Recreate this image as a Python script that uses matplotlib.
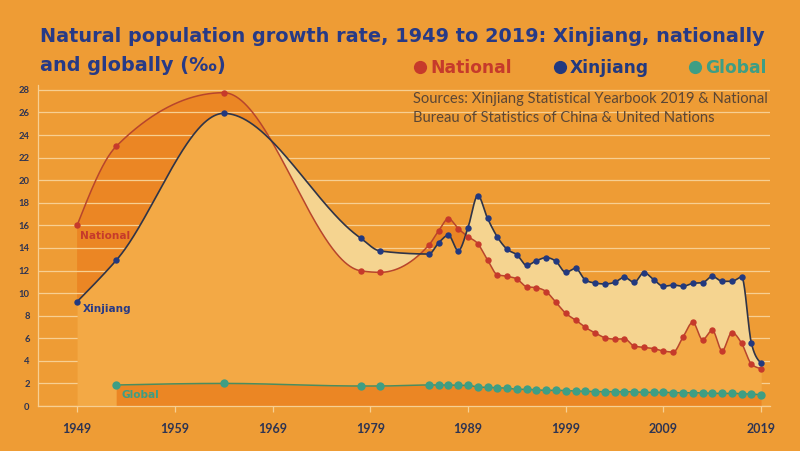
import numpy as np
import matplotlib
matplotlib.use("Agg")
import matplotlib.pyplot as plt
from matplotlib.lines import Line2D

# ---------------- data ----------------
years = [1949, 1953, 1964, 1978, 1980,
         1985, 1986, 1987, 1988, 1989, 1990, 1991, 1992, 1993, 1994,
         1995, 1996, 1997, 1998, 1999, 2000, 2001, 2002, 2003, 2004,
         2005, 2006, 2007, 2008, 2009, 2010, 2011, 2012, 2013, 2014,
         2015, 2016, 2017, 2018, 2019]

national = [16.0, 23.0, 27.75, 11.98, 11.84,
            14.26, 15.53, 16.59, 15.71, 15.00, 14.38, 12.93, 11.63, 11.49, 11.25,
            10.57, 10.48, 10.13, 9.18, 8.21, 7.62, 6.97, 6.47, 6.05, 5.93,
            5.96, 5.31, 5.20, 5.08, 4.87, 4.78, 6.11, 7.41, 5.88, 6.70,
            4.90, 6.50, 5.55, 3.72, 3.31]

xinjiang = [9.24, 12.9, 25.92, 14.88, 13.73,
            13.46, 14.47, 15.12, 13.76, 15.80, 18.63, 16.62, 14.97, 13.88, 13.40,
            12.46, 12.87, 13.14, 12.81, 11.84, 12.19, 11.16, 10.89, 10.81, 10.95,
            11.40, 10.95, 11.81, 11.19, 10.60, 10.72, 10.60, 10.87, 10.92, 11.48,
            11.04, 11.04, 11.43, 5.55, 3.78]

global_years = [1953, 1964, 1978, 1980,
                1985, 1986, 1987, 1988, 1989, 1990, 1991, 1992, 1993, 1994,
                1995, 1996, 1997, 1998, 1999, 2000, 2001, 2002, 2003, 2004,
                2005, 2006, 2007, 2008, 2009, 2010, 2011, 2012, 2013, 2014,
                2015, 2016, 2017, 2018, 2019]

global_rate = [1.86, 2.00, 1.77, 1.77,
               1.86, 1.86, 1.86, 1.83, 1.83, 1.68, 1.65, 1.62, 1.59, 1.48,
               1.48, 1.42, 1.39, 1.39, 1.36, 1.33, 1.30, 1.27, 1.27, 1.27,
               1.27, 1.24, 1.21, 1.21, 1.21, 1.18, 1.18, 1.18, 1.15, 1.12,
               1.12, 1.12, 1.09, 1.06, 1.00]

xtick_years = [1949, 1959, 1969, 1979, 1989, 1999, 2009, 2019]
ytick_values = [0, 2, 4, 6, 8, 10, 12, 14, 16, 18, 20, 22, 24, 26, 28]

title_lines = ["Natural population growth rate, 1949 to 2019: Xinjiang, nationally",
               "and globally (‰)"]
source_lines = ["Sources: Xinjiang Statistical Yearbook 2019 & National",
                "Bureau of Statistics of China & United Nations"]
legend_names = ["National", "Xinjiang", "Global"]

# ---------------- styling ----------------
BG = "#EE9C35"
LIGHT = "#F3A945"
DARK = "#EB8624"
PALE = "#F5D490"
GRID = "#F7CF92"
NAVY = "#273A86"
RED = "#C63A2B"
RED_LINE = "#B8452C"
BLUE = "#22397F"
BLUE_LINE = "#2F3448"
TEAL = "#3E9E84"
TEAL_LINE = "#4A8C5E"
HEAVY = "DejaVu Sans"


def monotone(x, y, xs):
    """Steffen monotone cubic curve (like d3 curveMonotoneX) for drawing."""
    x = np.asarray(x, float)
    y = np.asarray(y, float)
    n = len(x)
    h = np.diff(x)
    s = np.diff(y) / h
    m = np.zeros(n)
    for i in range(1, n - 1):
        p = (s[i - 1] * h[i] + s[i] * h[i - 1]) / (h[i - 1] + h[i])
        m[i] = (np.sign(s[i - 1]) + np.sign(s[i])) * min(abs(s[i - 1]), abs(s[i]), 0.5 * abs(p))
    m[0] = (3 * s[0] - m[1]) / 2
    m[-1] = (3 * s[-1] - m[-2]) / 2
    idx = np.clip(np.searchsorted(x, xs, side="right") - 1, 0, n - 2)
    hh = h[idx]
    t = (xs - x[idx]) / hh
    h00 = 2 * t**3 - 3 * t**2 + 1
    h10 = t**3 - 2 * t**2 + t
    h01 = -2 * t**3 + 3 * t**2
    h11 = t**3 - t**2
    return h00 * y[idx] + h10 * hh * m[idx] + h01 * y[idx + 1] + h11 * hh * m[idx + 1]


def fy(py):
    return 1 - py / 451


fig = plt.figure(figsize=(8.0, 4.51), dpi=100, facecolor=BG)
ax = fig.add_axes([38 / 800, 1 - 406 / 451, 732 / 800, 28.4 * 11.29 / 451])
ax.set_facecolor(BG)
ax.set_xlim(1945.0, 2019.9)
ax.set_ylim(0, 28.4)

xs = np.linspace(years[0], years[-1], 3000)
n_s = monotone(years, national, xs)
x_s = monotone(years, xinjiang, xs)
gxs = np.linspace(global_years[0], global_years[-1], 2000)
g_s = monotone(global_years, global_rate, gxs)

# grid
for v in ytick_values:
    ax.axhline(v, color=GRID, lw=0.9, zorder=2)

# fills
ax.fill_between(xs, x_s, n_s, where=n_s >= x_s, interpolate=True, color=DARK, lw=0, zorder=1.5)
ax.fill_between(xs, 0, np.minimum(n_s, x_s), color=LIGHT, lw=0, zorder=3)
ax.fill_between(xs, n_s, x_s, where=x_s >= n_s, interpolate=True, color=PALE, lw=0, zorder=3)
ax.fill_between(gxs, 0, g_s, color=DARK, lw=0, zorder=3.5)

# lines
ax.plot(xs, n_s, color=RED_LINE, lw=1.1, zorder=5)
ax.plot(xs, x_s, color=BLUE_LINE, lw=1.2, zorder=5)
ax.plot(gxs, g_s, color=TEAL_LINE, lw=1.1, zorder=5)

# points
ax.plot(years, national, "o", color=RED, ms=4.6, mec="none", zorder=6)
ax.plot(years, xinjiang, "o", color=BLUE, ms=4.6, mec="none", zorder=6)
ax.plot(global_years, global_rate, "o", color=TEAL, ms=6.0, mec="none", zorder=6)

# spines / ticks
for sp in ["top", "right"]:
    ax.spines[sp].set_visible(False)
ax.spines["left"].set_color(GRID)
ax.spines["bottom"].set_color(GRID)
ax.spines["left"].set_linewidth(0.9)
ax.spines["bottom"].set_linewidth(0.9)
ax.spines["left"].set_zorder(2)
ax.spines["bottom"].set_zorder(7)

ax.set_yticks(ytick_values)
ax.set_yticklabels([str(v) for v in ytick_values])
ax.set_xticks(xtick_years)
ax.set_xticklabels([str(v) for v in xtick_years])
ax.tick_params(axis="y", length=0, pad=6, labelsize=6.8, labelcolor="#2E3452")
ax.tick_params(axis="x", length=4, color=GRID, width=0.9, pad=8, labelsize=9, labelcolor="#2E3452")
for lab in ax.get_xticklabels() + ax.get_yticklabels():
    lab.set_fontweight("bold")
    lab.set_family("Lato")

# inline labels
ax.text(1949.3, 15.1, legend_names[0], color=RED, fontsize=7.6, fontweight="bold", family=HEAVY,
        va="center", ha="left", zorder=8)
ax.text(1949.6, 8.6, legend_names[1], color=NAVY, fontsize=7.6, fontweight="bold", family=HEAVY,
        va="center", ha="left", zorder=8)
ax.text(1953.5, 0.95, legend_names[2], color=TEAL, fontsize=7.6, fontweight="bold", family=HEAVY,
        va="center", ha="left", zorder=8)

# title
fig.text(40 / 800, fy(42), title_lines[0], color=NAVY, fontsize=13.9, fontweight="bold",
         family=HEAVY, ha="left", va="baseline")
fig.text(40 / 800, fy(71), title_lines[1], color=NAVY, fontsize=13.9, fontweight="bold",
         family=HEAVY, ha="left", va="baseline")

# legend
for name, col, px in zip(legend_names, [RED, BLUE, TEAL], [420, 560, 695]):
    fig.add_artist(Line2D([px / 800], [fy(67)], marker="o", ms=9.5, color=col,
                          mec="none", transform=fig.transFigure))
    fig.text((px + 10) / 800, fy(73), name, color=col, fontsize=12.3,
             fontweight="bold", family=HEAVY, ha="left", va="baseline")

# sources
fig.text(413 / 800, fy(103.5), source_lines[0], color="#5A4636", fontsize=10.6,
         family="Lato", ha="left", va="baseline")
fig.text(413 / 800, fy(121.5), source_lines[1], color="#5A4636", fontsize=10.6,
         family="Lato", ha="left", va="baseline")

fig.savefig("out.png", dpi=100, facecolor=BG)
